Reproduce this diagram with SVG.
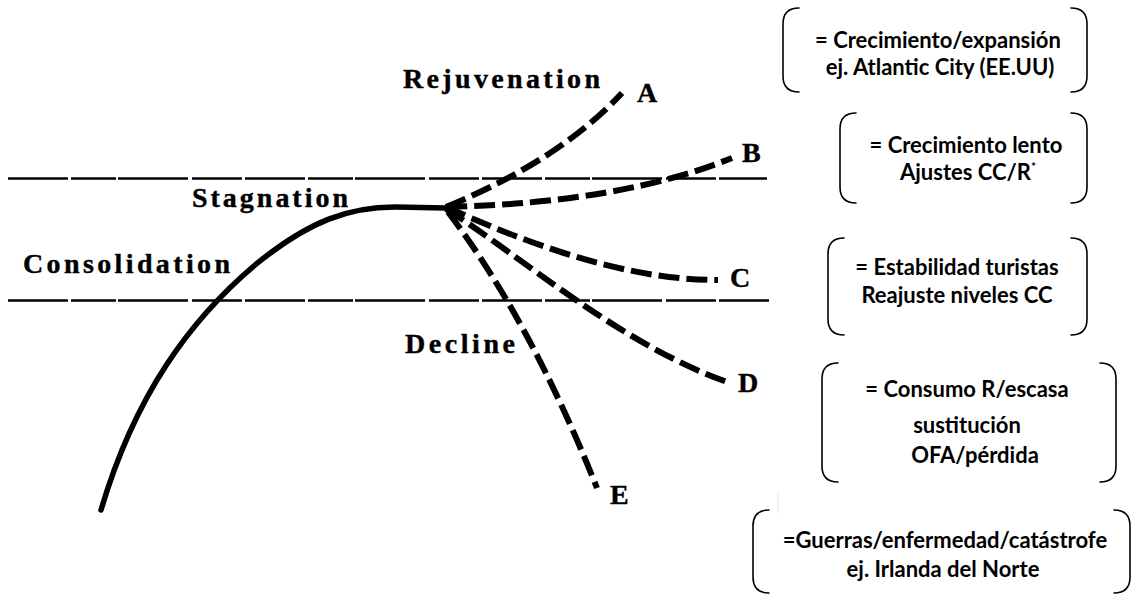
<svg xmlns="http://www.w3.org/2000/svg" width="1134" height="594" viewBox="0 0 1134 594">
  <style>
    .phase { font-family: "Liberation Serif", "Times New Roman", serif; font-weight: bold; font-size: 28px; fill: #000; stroke: #000; stroke-width: 0.4; }
    .note { font-family: Lato, "Liberation Sans", sans-serif; font-weight: bold; font-size: 22px; fill: #000; text-anchor: middle; }
    .level { fill: none; stroke: #000; stroke-width: 2.3; stroke-dasharray: 60 3 45 2 70 4 50 3; }
    .curve { fill: none; stroke: #000; stroke-width: 5.5; stroke-linecap: round; }
    .branch { fill: none; stroke: #000; stroke-width: 6; stroke-dasharray: 21 7; }
    .bracket { fill: none; stroke: #000; stroke-width: 1.6; stroke-linecap: round; }
  </style>

  <!-- threshold levels -->
  <g id="levels">
    <line class="level" x1="8" y1="178.5" x2="767" y2="178.5"/>
    <line class="level" x1="8" y1="300.5" x2="769" y2="300.5"/>
  </g>

  <!-- life-cycle curve and its five possible futures -->
  <g id="connectors">
    <path class="curve" d="M101,510 C135,395 190,320 255,265 C310,220 350,207 395,207 L446,208"/>
    <path id="branch-a" class="branch" d="M446,207 Q560,160 622,93"/>
    <path id="branch-b" class="branch" d="M446,207 Q620,203 732,158"/>
    <path id="branch-c" class="branch" d="M446,207 C520,240 620,280 718,280"/>
    <path id="branch-d" class="branch" d="M446,209 C520,255 620,345 730,383"/>
    <path id="branch-e" class="branch" d="M448,212 Q530,320 597,488"/>
  </g>

  <!-- stage labels -->
  <g id="stages">
    <text class="phase" x="403" y="88" textLength="197" lengthAdjust="spacing">Rejuvenation</text>
    <text class="phase" x="192" y="207" textLength="156" lengthAdjust="spacing">Stagnation</text>
    <text class="phase" x="23" y="273" textLength="207" lengthAdjust="spacing">Consolidation</text>
    <text class="phase" x="405" y="353" textLength="110" lengthAdjust="spacing">Decline</text>
  </g>

  <!-- branch letters -->
  <g id="letters">
    <text class="phase" x="637" y="102">A</text>
    <text class="phase" x="742" y="162">B</text>
    <text class="phase" x="730" y="287">C</text>
    <text class="phase" x="738" y="392">D</text>
    <text class="phase" x="610" y="504">E</text>
  </g>

  <!-- explanatory notes in brackets -->
  <g id="note-a">
    <path class="bracket" d="M799,8 Q783,8 783,24 L783,76 Q783,92 799,92"/>
    <path class="bracket" d="M1071,8 Q1087,8 1087,24 L1087,76 Q1087,92 1071,92"/>
    <text class="note" x="938" y="48">= Crecimiento/expansión</text>
    <text class="note" x="940" y="75">ej. Atlantic City (EE.UU)</text>
  </g>

  <g id="note-b">
    <path class="bracket" d="M856,113 Q840,113 840,129 L840,187 Q840,203 856,203"/>
    <path class="bracket" d="M1071,113 Q1087,113 1087,129 L1087,187 Q1087,203 1071,203"/>
    <text class="note" x="966" y="153">= Crecimiento lento</text>
    <text class="note" x="968" y="180">Ajustes CC/R<tspan font-size="12" dy="-9">*</tspan></text>
  </g>

  <g id="note-c">
    <path class="bracket" d="M844,238 Q828,238 828,254 L828,319 Q828,335 844,335"/>
    <path class="bracket" d="M1071,238 Q1087,238 1087,254 L1087,319 Q1087,335 1071,335"/>
    <text class="note" x="957" y="275">= Estabilidad turistas</text>
    <text class="note" x="957" y="303">Reajuste niveles CC</text>
  </g>

  <g id="note-d">
    <path class="bracket" d="M838,363 Q822,363 822,379 L822,466 Q822,482 838,482"/>
    <path class="bracket" d="M1100,363 Q1116,363 1116,379 L1116,466 Q1116,482 1100,482"/>
    <text class="note" x="967" y="397">= Consumo R/escasa</text>
    <text class="note" x="967" y="433">sustitución</text>
    <text class="note" x="975" y="463">OFA/pérdida</text>
  </g>

  <g id="note-e">
    <line x1="778" y1="492" x2="778" y2="513" stroke="#e4e4e4" stroke-width="1"/>
    <path class="bracket" d="M769,510 Q753,510 753,526 L753,577 Q753,593 769,593"/>
    <path class="bracket" d="M1114,510 Q1130,510 1130,526 L1130,577 Q1130,593 1114,593"/>
    <text class="note" x="945" y="548">=Guerras/enfermedad/catástrofe</text>
    <text class="note" x="943" y="577">ej. Irlanda del Norte</text>
  </g>
</svg>
